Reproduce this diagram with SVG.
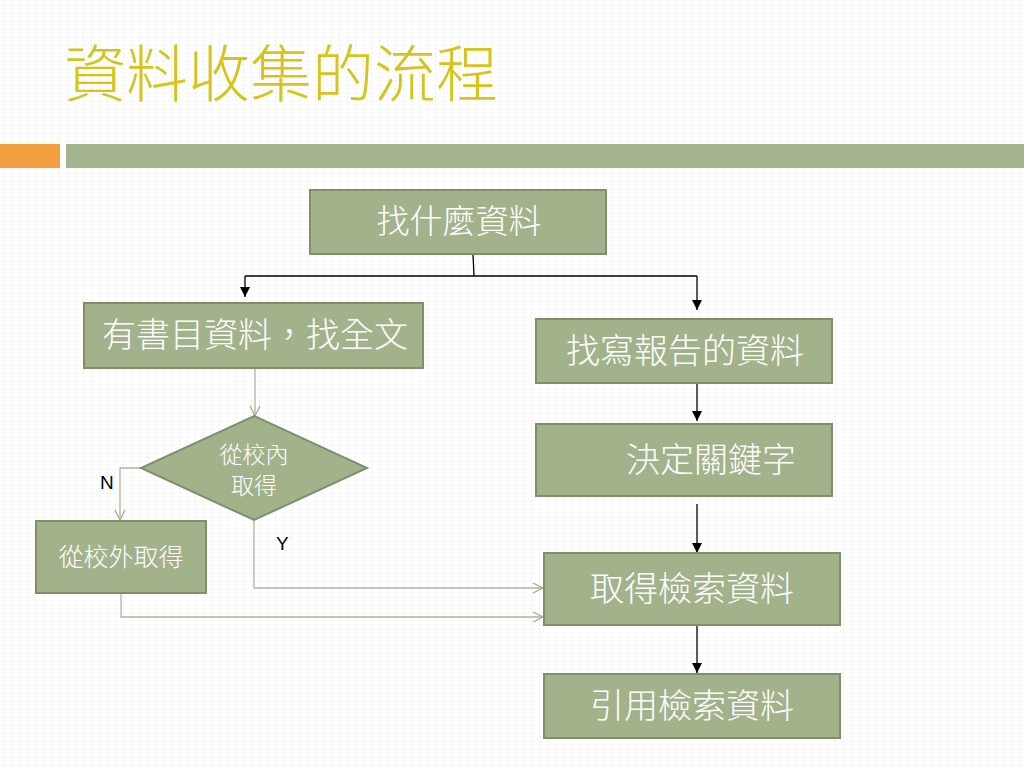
<svg xmlns="http://www.w3.org/2000/svg" width="1024" height="768" viewBox="0 0 1024 768" lang="zh-TW" xml:lang="zh-TW">
<defs>
<pattern id="bg" width="8" height="4" patternUnits="userSpaceOnUse">
<rect width="8" height="4" fill="#ffffff"/>
<rect x="3" y="0" width="1" height="2" fill="#ececec"/>
</pattern>
<marker id="ab" viewBox="0 0 10 10" refX="10" refY="5" markerWidth="10" markerHeight="10" markerUnits="userSpaceOnUse" orient="auto">
<path d="M0,0 L10,5 L0,10 Z" fill="#000"/>
</marker>
<marker id="ao" viewBox="0 0 12 12" refX="11" refY="6" markerWidth="12" markerHeight="12" markerUnits="userSpaceOnUse" orient="auto">
<path d="M1,1 L11,6 L1,11" fill="none" stroke="#9fae8c" stroke-width="1.3"/>
</marker>
<style>
.n{fill:#a2b38c;stroke:#7e8f6c;stroke-width:2}
.t{font-family:"Noto Sans CJK TC","Noto Sans CJK SC",sans-serif;fill:#ffffff;text-anchor:middle;font-weight:300}
.k{fill:none;stroke:#000;stroke-width:1.3}
.g{fill:none;stroke:#a9b79a;stroke-width:1.3}
.l{font-family:"Liberation Sans",Arial,sans-serif;font-size:19px;fill:#000}
</style>
</defs>
<rect width="1024" height="768" fill="url(#bg)"/>
<text x="64" y="97" font-family="Noto Sans CJK TC, Noto Sans CJK SC, sans-serif" font-size="62" font-weight="300" fill="#d6c31b">資料收集的流程</text>
<rect x="0" y="144" width="60" height="24" fill="#f2a03f"/>
<rect x="66" y="144" width="958" height="24" fill="#a4b48e"/>
<g id="connectors">
<path class="k" d="M473,254 L474,276"/>
<path class="k" d="M245,276 L697,276"/>
<path class="k" d="M245,276 L245,297" marker-end="url(#ab)"/>
<path class="k" d="M697,276 L697,310" marker-end="url(#ab)"/>
<path class="k" d="M697,384 L697,421" marker-end="url(#ab)"/>
<path class="k" d="M697,504 L697,553" marker-end="url(#ab)"/>
<path class="k" d="M697,625 L697,673" marker-end="url(#ab)"/>
<path class="g" d="M255,369 L255,416" marker-end="url(#ao)"/>
<path class="g" d="M141,468 L120,468 L120,520" marker-end="url(#ao)"/>
<path class="g" d="M254,520 L254,588 L543,588" marker-end="url(#ao)"/>
<path class="g" d="M121,594 L121,617 L543,617" marker-end="url(#ao)"/>
</g>
<g id="n1"><rect class="n" x="310" y="190" width="296" height="64"/><text class="t" x="459" y="233" font-size="33">找什麼資料</text></g>
<g id="n2"><rect class="n" x="84" y="303" width="339" height="65"/><text class="t" x="255" y="347" font-size="34" lang="zh-TW">有書目資料，找全文</text></g>
<g id="n3"><rect class="n" x="536" y="319" width="296" height="64"/><text class="t" x="685" y="363" font-size="34">找寫報告的資料</text></g>
<g id="n4"><rect class="n" x="536" y="424" width="296" height="72"/><text class="t" x="711" y="472" font-size="34">決定關鍵字</text></g>
<g id="n5"><rect class="n" x="544" y="553" width="296" height="72"/><text class="t" x="692" y="601" font-size="34">取得檢索資料</text></g>
<g id="n6"><rect class="n" x="544" y="674" width="296" height="64"/><text class="t" x="692" y="718" font-size="34">引用檢索資料</text></g>
<g id="n7"><path class="n" d="M254,416 L367,468 L254,520 L141,468 Z"/><text class="t" x="254" y="463" font-size="23">從校內</text><text class="t" x="254" y="494" font-size="23">取得</text></g>
<g id="n8"><rect class="n" x="36" y="521" width="170" height="72"/><text class="t" x="121" y="566" font-size="25">從校外取得</text></g>
<text class="l" x="100" y="489">N</text>
<text class="l" x="276" y="550">Y</text>
</svg>
